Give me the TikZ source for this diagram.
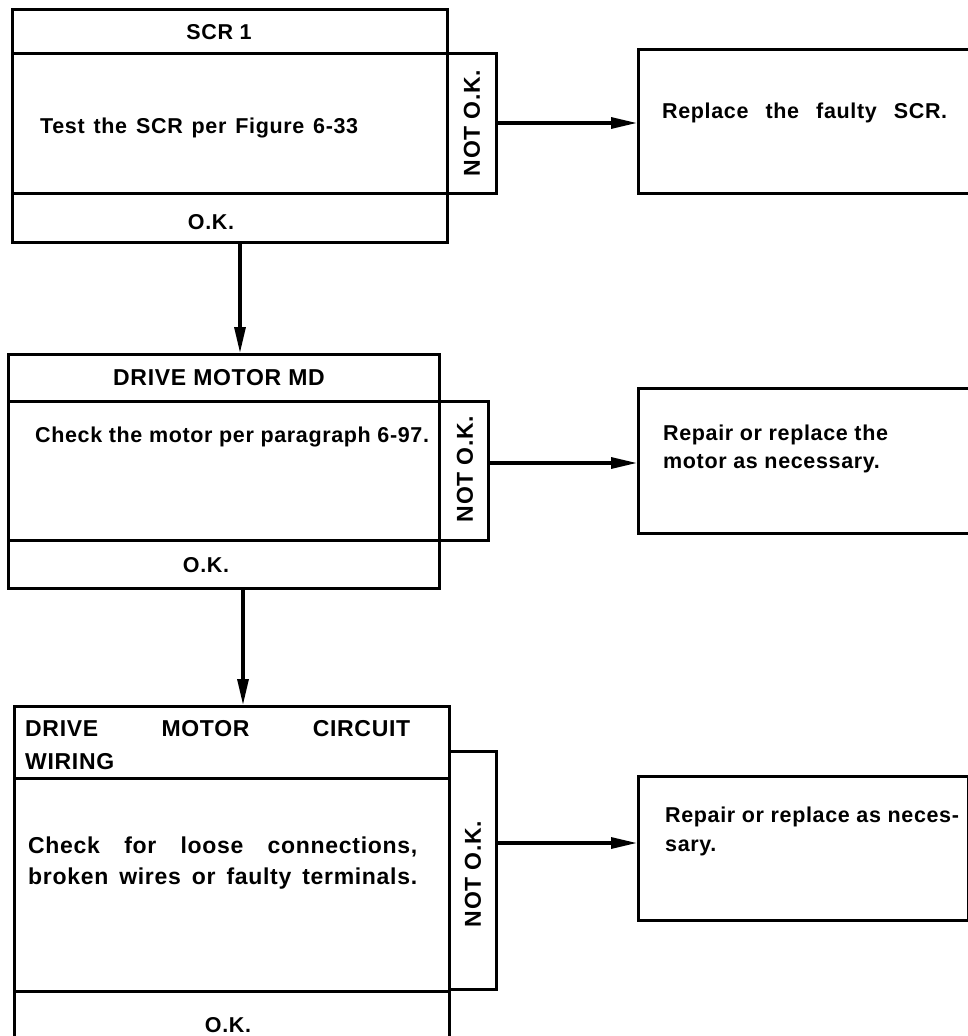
\documentclass[tikz,border=0pt]{standalone}
\usepackage{fontspec}
\setmainfont{Liberation Sans}[LetterSpace=3]
\usetikzlibrary{arrows.meta}
\begin{document}
\begin{tikzpicture}[x=1pt,y=-1pt,
  box/.style={draw,line width=3pt,inner sep=0pt,anchor=north west},
  lbl/.style={inner sep=0pt,font=\fontsize{21.5}{24}\selectfont\bfseries},
  big/.style={inner sep=0pt,font=\fontsize{23}{26}\selectfont\bfseries},
  tabtxt/.style={inner sep=0pt,rotate=90,font=\fontsize{23}{26}\selectfont\bfseries},
  arr/.style={line width=3.2pt,-{Triangle[length=26pt,width=11pt]}}]
\useasboundingbox (0,0) rectangle (968,1036);
\begin{scope}
\clip (0,0) rectangle (968,1036);
% ---------- block 1
\node[box,minimum width=435pt,minimum height=44pt]  (h1)   at (11,8)   {};
\node[box,minimum width=435pt,minimum height=140pt] (b1)   at (11,52)  {};
\node[box,minimum width=435pt,minimum height=49pt]  (ok1)  at (11,192) {};
\node[box,minimum width=49pt,minimum height=140pt]  (tab1) at (446,52) {};
\node[box,minimum width=340pt,minimum height=144pt] (r1)   at (637,48) {};
% ---------- block 2
\node[box,minimum width=431pt,minimum height=47pt]  (h2)   at (7,353)  {};
\node[box,minimum width=431pt,minimum height=139pt] (b2)   at (7,400)  {};
\node[box,minimum width=431pt,minimum height=48pt]  (ok2)  at (7,539)  {};
\node[box,minimum width=49pt,minimum height=139pt]  (tab2) at (438,400) {};
\node[box,minimum width=340pt,minimum height=145pt] (r2)   at (637,387) {};
% ---------- block 3
\node[box,minimum width=435pt,minimum height=72pt]  (h3)   at (13,705) {};
\node[box,minimum width=435pt,minimum height=213pt] (b3)   at (13,777) {};
\node[box,minimum width=435pt,minimum height=70pt]  (ok3)  at (13,990) {};
\node[box,minimum width=47pt,minimum height=238pt]  (tab3) at (448,750) {};
\node[box,minimum width=330pt,minimum height=144pt] (r3)   at (637,775) {};
\end{scope}
% ---------- texts block 1
\node[lbl,anchor=base] (t1) at (219,39) {SCR 1};
\node[lbl,anchor=base west] (x1) at (40,133) {\makebox[318pt][s]{Test the SCR per Figure 6-33}};
\node[lbl,anchor=base] (k1) at (211,229) {O.K.};
\node[tabtxt] (n1) at (472,123) {NOT O.K.};
\node[lbl,anchor=base west] (rt1) at (662,118) {\makebox[285pt][s]{Replace the faulty SCR.}};
% ---------- texts block 2
\node[big,anchor=base] (t2) at (219,385) {DRIVE MOTOR MD};
\node[lbl,anchor=base west] (x2) at (35,442) {Check the motor per paragraph 6-97.};
\node[lbl,anchor=base] (k2) at (206,572) {O.K.};
\node[tabtxt] (n2) at (465,469) {NOT O.K.};
\node[lbl,anchor=base west] (rt2a) at (663,440) {Repair or replace the};
\node[lbl,anchor=base west] (rt2b) at (663,468) {motor as necessary.};
% ---------- texts block 3
\node[big,anchor=base west] (t3a) at (25,736) {\makebox[385pt][s]{DRIVE MOTOR CIRCUIT}};
\node[big,anchor=base west] (t3b) at (25,769) {WIRING};
\node[big,anchor=base west] (x3a) at (28,853) {\makebox[389pt][s]{Check for loose connections,}};
\node[big,anchor=base west] (x3b) at (28,884) {\makebox[389pt][s]{broken wires or faulty terminals.}};
\node[lbl,anchor=base] (k3) at (228,1032) {O.K.};
\node[tabtxt] (n3) at (473,874) {NOT O.K.};
\node[lbl,anchor=base west] (rt3a) at (665,822) {Repair or replace as neces-};
\node[lbl,anchor=base west] (rt3b) at (665,851) {sary.};
% ---------- connectors
\coordinate (ya) at (0,123);
\coordinate (yb) at (0,463);
\coordinate (yc) at (0,843);
\coordinate (xa) at (240,0);
\coordinate (xb) at (243,0);
\draw[arr] (tab1.east |- ya) -- (r1.west |- ya);
\draw[arr] (tab2.east |- yb) -- (r2.west |- yb);
\draw[arr] (tab3.east |- yc) -- (r3.west |- yc);
\draw[arr] (ok1.south -| xa) -- (h2.north -| xa);
\draw[arr] (ok2.south -| xb) -- (h3.north -| xb);
\end{tikzpicture}
\end{document}
